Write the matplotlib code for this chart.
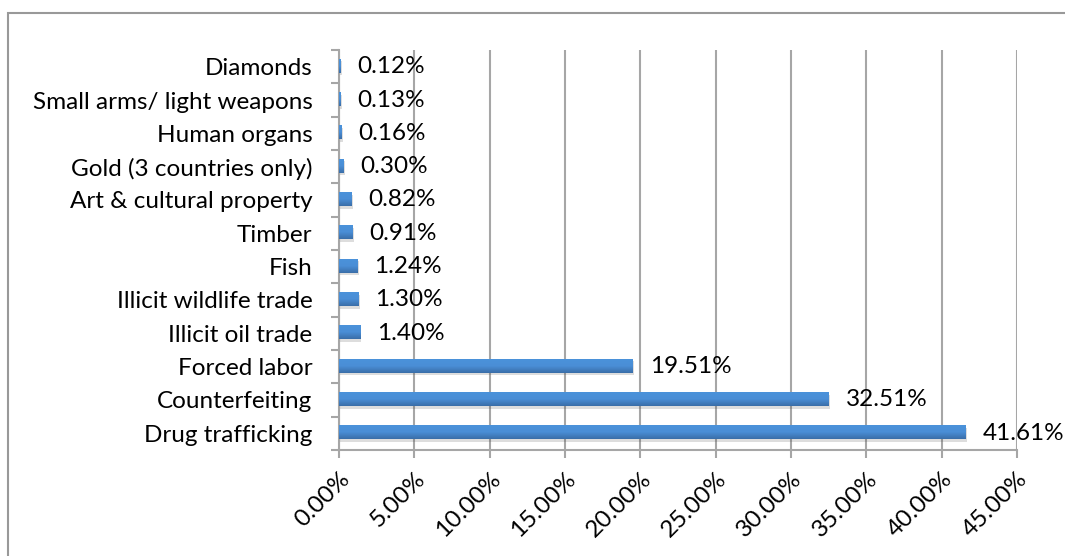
"""
Illicit market shares by category, horizontal bar chart.
"""

import numpy as np
import matplotlib.pyplot as plt
from matplotlib.patches import Rectangle
from matplotlib import patheffects
from matplotlib.colors import LinearSegmentedColormap

categories = ['Drug trafficking', 'Counterfeiting', 'Forced labor', 'Illicit oil trade',
              'Illicit wildlife trade', 'Fish', 'Timber', 'Art & cultural property',
              'Gold (3 countries only)', 'Human organs', 'Small arms/ light weapons',
              'Diamonds']
shares = [41.61, 32.51, 19.51, 1.40, 1.30, 1.24, 0.91, 0.82, 0.30, 0.16, 0.13, 0.12]
xticks = [0, 5, 10, 15, 20, 25, 30, 35, 40, 45]

plt.rcParams['font.family'] = ['Lato', 'DejaVu Sans']
grid_col = '#a6a6a6'
fs = 17.5

fig = plt.figure(figsize=(10.65, 5.56), dpi=100)
# outer chart frame (runs off the right side)
fig.patches.append(Rectangle((8 / 1065, -0.1), 1.2, 1 - 13 / 556 + 0.1,
                             transform=fig.transFigure, fill=False,
                             edgecolor='#999999', lw=1.5))

ax = fig.add_axes([339 / 1065, 1 - 450 / 556, (1017 - 339) / 1065, 400 / 556])
y = np.arange(len(categories))
bars = ax.barh(y + 0.03, shares, height=0.42, color='#4283cc', zorder=3)

# vertical shading on each bar, light on top
cmap = LinearSegmentedColormap.from_list('bar', ['#4b92da', '#4a8ed6', '#3a6ea8'])
grad = np.linspace(0, 1, 64).reshape(-1, 1)
for b in bars:
    x0, y0 = b.get_x(), b.get_y()
    w, h = b.get_width(), b.get_height()
    im = ax.imshow(grad, cmap=cmap, aspect='auto', extent=(x0, x0 + w, y0, y0 + h),
                   zorder=3.1)
    im.set_clip_path(b)
    b.set_path_effects([patheffects.SimplePatchShadow(offset=(1, -2), alpha=0.18,
                                                      shadow_rgbFace='#444444'),
                        patheffects.Normal()])

for yi, v in zip(y, shares):
    ax.annotate(f'{v:.2f}%', (v, yi), xytext=(12, 0), textcoords='offset points',
                va='center', ha='left', fontsize=fs, color='black')

ax.set_xlim(0, 45)
ax.set_ylim(-0.5, len(categories) - 0.5)
ax.set_xticks(xticks)
ax.set_xticklabels([f'{t:.2f}%' for t in xticks], rotation=45, ha='right',
                   rotation_mode='anchor', fontsize=fs)
ax.set_yticks(y)
ax.set_yticklabels(categories, fontsize=fs)
ax.set_yticks(np.arange(-0.5, len(categories), 1), minor=True)
ax.tick_params(axis='y', which='major', length=0, pad=19)
ax.tick_params(axis='y', which='minor', length=6, color=grid_col, width=1.5)
ax.tick_params(axis='x', length=6, color=grid_col, width=1.5, pad=7)
ax.grid(axis='x', color=grid_col, lw=1.5, zorder=0)
for s in ['top', 'right']:
    ax.spines[s].set_visible(False)
for s in ['left', 'bottom']:
    ax.spines[s].set_color(grid_col)
    ax.spines[s].set_linewidth(1.5)

fig.savefig('out.png', dpi=100)
